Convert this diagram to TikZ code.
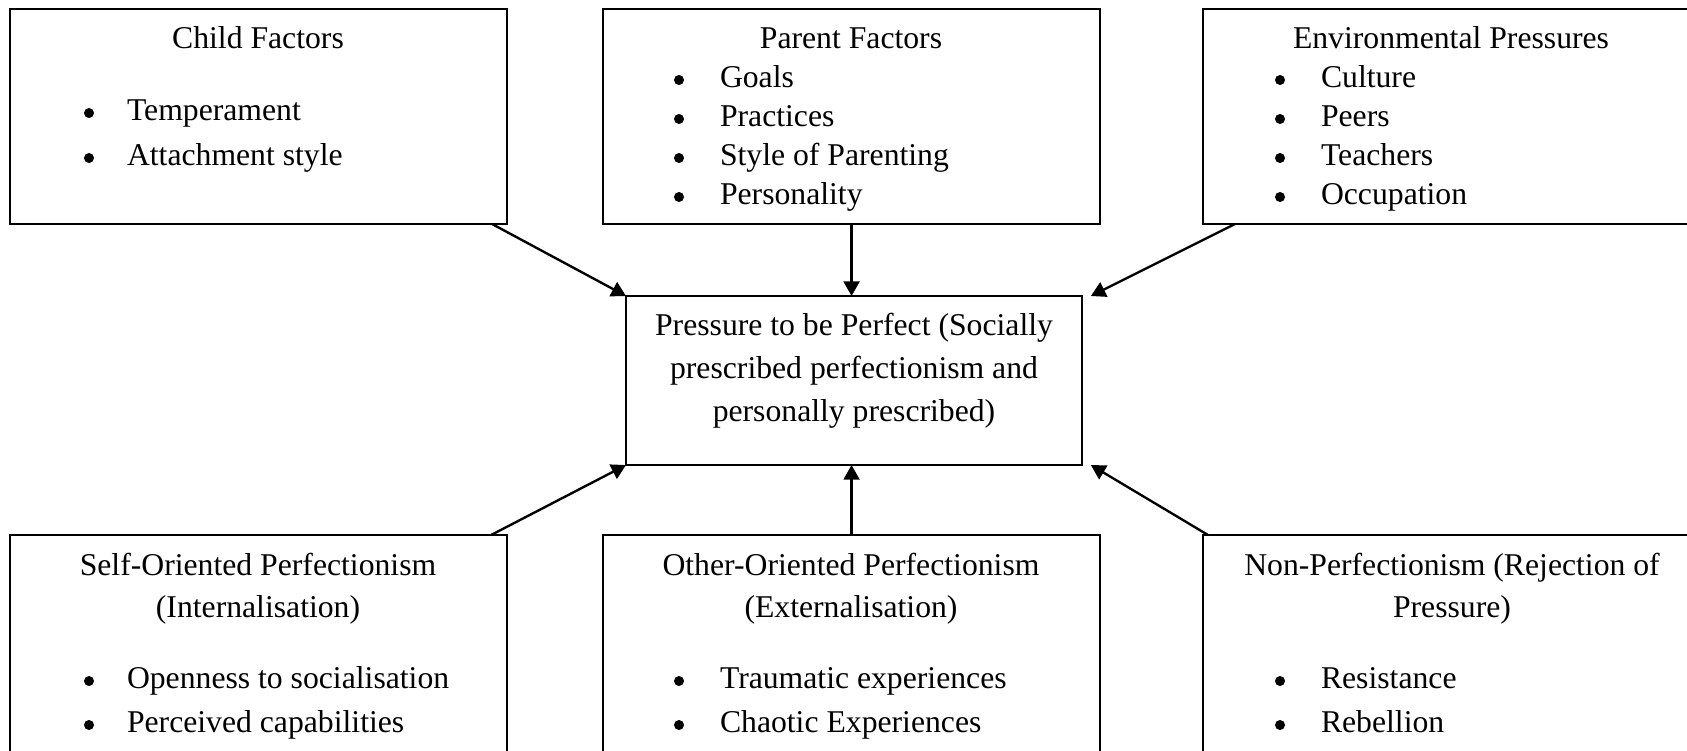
\documentclass[tikz,border=0pt]{standalone}
\usepackage{fontspec}
\setmainfont{Liberation Serif}
\usetikzlibrary{arrows.meta,calc}

\begin{document}
\begin{tikzpicture}
    [
        x = 0.3786pt,
        y = -0.3786pt,
        every node/.style = {
            inner sep = 0pt,
            outer sep = 0pt,
            font = \fontsize{12}{14}\selectfont
        },
        factorbox/.style = {
            draw,
            rectangle,
            line width = 0.8pt,
            anchor = north west,
            minimum width = 188.2pt,
            minimum height = #1
        },
        factorbox/.default = 81.4pt,
        linetext/.style = {anchor = base},
        itemtext/.style = {anchor = base west},
        bulletdot/.style = {circle, fill, minimum size = 3.8pt},
        link/.style = {
            line width = 0.9pt,
            -{Triangle[length = 5.5pt, width = 6pt]}
        },
    ]

    \useasboundingbox (0,0) rectangle (1687,750);
    \clip (0,0) rectangle (1687,750);

    % boxes
    \node [factorbox] (child) at (10,9) {};
    \node [factorbox] (parent) at (603,9) {};
    \node [factorbox] (environment) at (1203,9) {};
    \node [factorbox, minimum width = 172.6pt, minimum height = 64pt] (pressure) at (626,296) {};
    \node [factorbox = 92pt] (self) at (10,535) {};
    \node [factorbox = 92pt] (other) at (603,535) {};
    \node [factorbox = 92pt] (non) at (1203,535) {};

    % top row
    \node [linetext] (child-title) at (258,49) {Child Factors};
    \foreach \txt [count = \i] in {Temperament, Attachment style}
    {
        \node [bulletdot] (child-dot-\i) at (89, {113 + 45*(\i-1)}) {};
        \node [itemtext] (child-item-\i) at (127, {120 + 45*(\i-1)}) {\txt};
    }

    \node [linetext] (parent-title) at (851,49) {Parent Factors};
    \foreach \txt [count = \i] in {Goals, Practices, Style of Parenting, Personality}
    {
        \node [bulletdot] (parent-dot-\i) at (679, {80 + 39*(\i-1)}) {};
        \node [itemtext] (parent-item-\i) at (720, {87 + 39*(\i-1)}) {\txt};
    }

    \node [linetext] (environment-title) at (1451,49) {Environmental Pressures};
    \foreach \txt [count = \i] in {Culture, Peers, Teachers, Occupation}
    {
        \node [bulletdot] (environment-dot-\i) at (1280, {80 + 39*(\i-1)}) {};
        \node [itemtext] (environment-item-\i) at (1321, {87 + 39*(\i-1)}) {\txt};
    }

    % centre
    \foreach \txt [count = \i] in {Pressure to be Perfect (Socially, prescribed perfectionism and, personally prescribed)}
        \node [linetext] (pressure-line-\i) at (854, {335 + 43*(\i-1)}) {\txt};

    % bottom row
    \node [linetext] (self-title-1) at (258,575) {Self-Oriented Perfectionism};
    \node [linetext] (self-title-2) at (258,617) {(Internalisation)};
    \foreach \txt [count = \i] in {Openness to socialisation, Perceived capabilities}
    {
        \node [bulletdot] (self-dot-\i) at (89, {681 + 44*(\i-1)}) {};
        \node [itemtext] (self-item-\i) at (127, {688 + 44*(\i-1)}) {\txt};
    }

    \node [linetext] (other-title-1) at (851,575) {Other-Oriented Perfectionism};
    \node [linetext] (other-title-2) at (851,617) {(Externalisation)};
    \foreach \txt [count = \i] in {Traumatic experiences, Chaotic Experiences}
    {
        \node [bulletdot] (other-dot-\i) at (679, {681 + 44*(\i-1)}) {};
        \node [itemtext] (other-item-\i) at (720, {688 + 44*(\i-1)}) {\txt};
    }

    \node [linetext] (non-title-1) at (1452,575) {Non-Perfectionism (Rejection of};
    \node [linetext] (non-title-2) at (1452,617) {Pressure)};
    \foreach \txt [count = \i] in {Resistance, Rebellion}
    {
        \node [bulletdot] (non-dot-\i) at (1280, {681 + 44*(\i-1)}) {};
        \node [itemtext] (non-item-\i) at (1321, {688 + 44*(\i-1)}) {\txt};
    }

    % arrows
    \draw [link] ($(child.south east)+(-15,0)$) -- (pressure.north west);
    \draw [link] (parent.south) -- (parent.south |- pressure.north);
    \draw [link] ($(environment.south west)+(32,0)$) -- ($(pressure.north east)+(9,0)$);
    \draw [link] ($(self.north east)+(-16,0)$) -- (pressure.south west);
    \draw [link] (other.north) -- (other.north |- pressure.south);
    \draw [link] ($(non.north west)+(5,0)$) -- ($(pressure.south east)+(9,0)$);
\end{tikzpicture}
\end{document}
